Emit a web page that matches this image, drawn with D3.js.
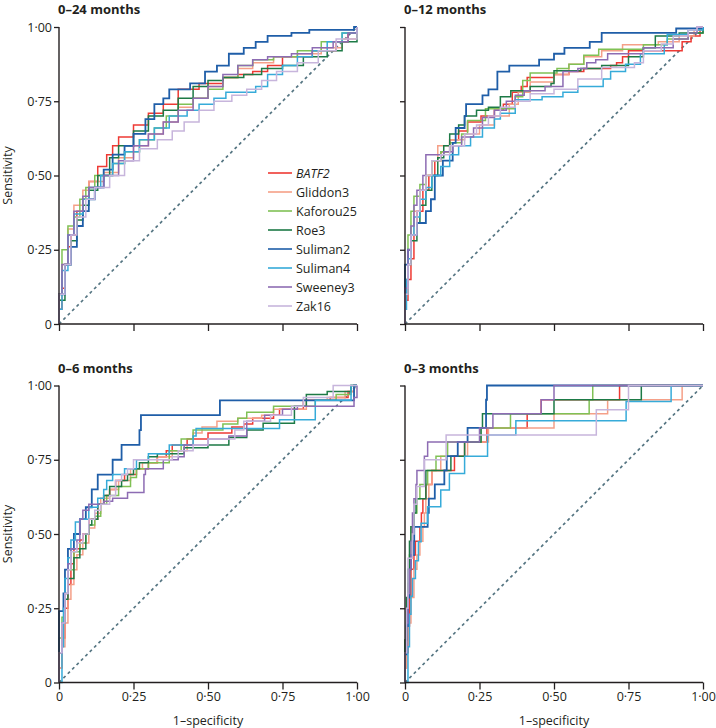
<!DOCTYPE html>
<html>
<head>
<meta charset="utf-8">
<script src="https://cdn.jsdelivr.net/npm/d3@7"></script>
<style>
  html, body { margin: 0; padding: 0; background: #fff; }
  svg { display: block; }
  text { font-family: "Open Sans", "Noto Sans", sans-serif; fill: #231f20; }
</style>
</head>
<body>
<svg id="chart" width="716" height="728"></svg>
<script>
// ---------------- DATA ----------------
const seriesNames = ["BATF2", "Gliddon3", "Kaforou25", "Roe3", "Suliman2", "Suliman4", "Sweeney3", "Zak16"];
const panelTitles = ["0\u201324 months", "0\u201312 months", "0\u20136 months", "0\u20133 months"];
const tickValues = [0, 0.25, 0.5, 0.75, 1];
const tickLabels = ["0", "0\u00b725", "0\u00b750", "0\u00b775", "1\u00b700"];

// ROC points [1-specificity, sensitivity], series in the order of seriesNames
const roc24 = [
  [[0,0],[0,0.05],[0.01,0.12],[0.02,0.2],[0.03,0.26],[0.04,0.3],[0.06,0.38],[0.08,0.42],[0.1,0.48],[0.13,0.53],[0.16,0.57],[0.18,0.6],[0.2,0.63],[0.25,0.67],[0.3,0.71],[0.35,0.74],[0.4,0.79],[0.47,0.81],[0.55,0.83],[0.6,0.84],[0.65,0.85],[0.7,0.87],[0.75,0.9],[0.85,0.92],[0.93,0.95],[0.97,0.98],[1,1]],
  [[0,0],[0,0.08],[0.01,0.2],[0.03,0.32],[0.05,0.4],[0.08,0.45],[0.1,0.48],[0.15,0.51],[0.2,0.56],[0.25,0.6],[0.3,0.64],[0.35,0.68],[0.4,0.73],[0.45,0.76],[0.5,0.8],[0.55,0.83],[0.6,0.86],[0.65,0.88],[0.72,0.9],[0.8,0.91],[0.88,0.93],[0.95,0.96],[1,1]],
  [[0,0],[0,0.1],[0.01,0.25],[0.03,0.33],[0.05,0.36],[0.07,0.42],[0.09,0.46],[0.12,0.5],[0.18,0.54],[0.22,0.58],[0.27,0.62],[0.32,0.66],[0.36,0.7],[0.4,0.74],[0.45,0.76],[0.5,0.79],[0.55,0.83],[0.6,0.87],[0.65,0.89],[0.72,0.9],[0.8,0.92],[0.88,0.95],[0.95,0.98],[1,0.99],[1,1]],
  [[0,0],[0,0.08],[0.02,0.2],[0.04,0.28],[0.06,0.35],[0.08,0.4],[0.1,0.45],[0.13,0.5],[0.17,0.56],[0.2,0.6],[0.25,0.65],[0.3,0.7],[0.35,0.72],[0.4,0.76],[0.45,0.8],[0.5,0.82],[0.55,0.83],[0.62,0.84],[0.68,0.86],[0.75,0.87],[0.82,0.9],[0.9,0.92],[0.95,0.95],[1,1]],
  [[0,0],[0,0.1],[0.02,0.2],[0.04,0.26],[0.06,0.33],[0.08,0.38],[0.1,0.42],[0.12,0.46],[0.15,0.52],[0.18,0.57],[0.22,0.6],[0.25,0.64],[0.29,0.69],[0.32,0.74],[0.35,0.76],[0.37,0.79],[0.44,0.81],[0.49,0.85],[0.53,0.87],[0.57,0.91],[0.62,0.93],[0.66,0.95],[0.7,0.97],[0.78,0.98],[0.84,0.99],[0.99,1],[1,1]],
  [[0,0],[0,0.05],[0.01,0.18],[0.03,0.3],[0.05,0.37],[0.08,0.42],[0.1,0.46],[0.14,0.5],[0.18,0.54],[0.22,0.58],[0.27,0.62],[0.32,0.66],[0.37,0.7],[0.43,0.72],[0.47,0.74],[0.52,0.76],[0.56,0.78],[0.66,0.8],[0.7,0.84],[0.75,0.87],[0.8,0.9],[0.85,0.92],[0.9,0.95],[0.95,0.98],[1,1]],
  [[0,0],[0,0.1],[0.01,0.2],[0.03,0.3],[0.05,0.38],[0.08,0.43],[0.1,0.46],[0.15,0.5],[0.2,0.55],[0.25,0.6],[0.3,0.64],[0.35,0.68],[0.4,0.72],[0.45,0.76],[0.5,0.8],[0.55,0.84],[0.6,0.87],[0.65,0.89],[0.7,0.9],[0.78,0.91],[0.85,0.93],[0.92,0.95],[0.97,0.98],[1,1]],
  [[0,0],[0,0.1],[0.02,0.2],[0.04,0.3],[0.06,0.36],[0.09,0.42],[0.12,0.46],[0.17,0.5],[0.22,0.55],[0.27,0.59],[0.33,0.62],[0.38,0.65],[0.42,0.68],[0.47,0.72],[0.52,0.75],[0.58,0.77],[0.63,0.79],[0.68,0.82],[0.73,0.85],[0.8,0.88],[0.87,0.92],[0.93,0.96],[1,1]]
];

const roc12 = [
  [[0,0],[0,0.08],[0.01,0.15],[0.02,0.22],[0.03,0.3],[0.04,0.38],[0.06,0.45],[0.08,0.5],[0.1,0.55],[0.12,0.58],[0.15,0.62],[0.18,0.65],[0.21,0.68],[0.255,0.7],[0.3,0.72],[0.33,0.74],[0.36,0.78],[0.39,0.8],[0.41,0.83],[0.5,0.84],[0.55,0.85],[0.6,0.86],[0.69,0.87],[0.71,0.88],[0.73,0.9],[0.75,0.92],[0.93,0.95],[0.96,0.97],[0.99,1],[1,1]],
  [[0,0],[0,0.1],[0.01,0.2],[0.02,0.3],[0.03,0.38],[0.05,0.45],[0.07,0.5],[0.09,0.55],[0.11,0.6],[0.15,0.62],[0.2,0.64],[0.25,0.67],[0.3,0.7],[0.35,0.74],[0.38,0.78],[0.42,0.815],[0.5,0.84],[0.55,0.875],[0.6,0.9],[0.66,0.92],[0.73,0.94],[0.85,0.95],[0.92,0.97],[0.97,0.99],[1,1]],
  [[0,0],[0,0.15],[0.01,0.3],[0.02,0.38],[0.03,0.43],[0.05,0.47],[0.07,0.5],[0.09,0.55],[0.12,0.58],[0.15,0.61],[0.19,0.64],[0.21,0.685],[0.27,0.725],[0.37,0.765],[0.395,0.82],[0.42,0.845],[0.51,0.86],[0.55,0.875],[0.6,0.905],[0.65,0.925],[0.8,0.94],[0.88,0.96],[0.95,0.98],[1,1]],
  [[0,0],[0,0.1],[0.01,0.2],[0.02,0.28],[0.04,0.34],[0.05,0.4],[0.07,0.45],[0.09,0.5],[0.11,0.56],[0.13,0.6],[0.15,0.64],[0.18,0.67],[0.2,0.7],[0.24,0.72],[0.28,0.73],[0.32,0.765],[0.355,0.785],[0.42,0.8],[0.49,0.81],[0.5,0.853],[0.59,0.86],[0.66,0.87],[0.75,0.9],[0.8,0.93],[0.84,0.97],[0.92,0.98],[1,1]],
  [[0,0],[0,0.2],[0.01,0.25],[0.02,0.3],[0.04,0.34],[0.07,0.38],[0.087,0.42],[0.1,0.5],[0.127,0.55],[0.16,0.61],[0.17,0.66],[0.2,0.7],[0.205,0.74],[0.26,0.77],[0.28,0.79],[0.31,0.85],[0.35,0.87],[0.45,0.89],[0.5,0.91],[0.535,0.93],[0.62,0.95],[0.66,0.98],[0.91,0.995],[1,1]],
  [[0,0],[0,0.05],[0.005,0.15],[0.01,0.22],[0.02,0.3],[0.03,0.36],[0.05,0.42],[0.07,0.46],[0.09,0.5],[0.12,0.53],[0.15,0.57],[0.18,0.6],[0.22,0.63],[0.26,0.66],[0.3,0.69],[0.32,0.71],[0.37,0.755],[0.46,0.765],[0.53,0.78],[0.58,0.8],[0.665,0.825],[0.69,0.85],[0.74,0.875],[0.79,0.91],[0.87,0.94],[0.88,0.975],[0.95,0.99],[1,1]],
  [[0,0],[0,0.12],[0.01,0.25],[0.02,0.33],[0.03,0.4],[0.04,0.45],[0.06,0.5],[0.07,0.57],[0.13,0.58],[0.16,0.6],[0.19,0.63],[0.23,0.66],[0.26,0.695],[0.3,0.72],[0.34,0.75],[0.37,0.77],[0.4,0.785],[0.47,0.8],[0.53,0.85],[0.58,0.86],[0.61,0.88],[0.64,0.89],[0.68,0.91],[0.8,0.93],[0.9,0.96],[0.95,0.98],[0.98,1],[1,1]],
  [[0,0],[0,0.1],[0.01,0.2],[0.02,0.3],[0.04,0.38],[0.05,0.45],[0.07,0.5],[0.09,0.55],[0.12,0.57],[0.15,0.6],[0.2,0.64],[0.24,0.67],[0.28,0.7],[0.32,0.73],[0.37,0.75],[0.42,0.775],[0.5,0.79],[0.58,0.825],[0.66,0.864],[0.77,0.88],[0.8,0.92],[0.86,0.943],[0.9,0.97],[0.95,0.99],[0.98,1],[1,1]]
];

const roc6 = [
  [[0,0],[0,0.05],[0.01,0.15],[0.02,0.25],[0.03,0.33],[0.04,0.4],[0.05,0.45],[0.07,0.48],[0.08,0.5],[0.1,0.55],[0.13,0.6],[0.15,0.63],[0.17,0.65],[0.19,0.68],[0.22,0.7],[0.26,0.72],[0.3,0.74],[0.33,0.76],[0.36,0.78],[0.38,0.8],[0.43,0.82],[0.5,0.84],[0.58,0.86],[0.62,0.87],[0.65,0.89],[0.72,0.9],[0.74,0.92],[0.82,0.95],[0.91,0.96],[0.97,0.98],[0.99,1],[1,1]],
  [[0,0],[0,0.05],[0.01,0.12],[0.02,0.2],[0.03,0.28],[0.04,0.33],[0.05,0.38],[0.06,0.43],[0.08,0.47],[0.1,0.52],[0.12,0.57],[0.14,0.62],[0.17,0.65],[0.2,0.68],[0.24,0.72],[0.28,0.74],[0.33,0.76],[0.38,0.78],[0.43,0.8],[0.45,0.84],[0.48,0.86],[0.53,0.88],[0.6,0.89],[0.68,0.9],[0.72,0.92],[0.83,0.95],[0.9,0.96],[0.96,0.98],[0.99,1],[1,1]],
  [[0,0],[0,0.15],[0.01,0.22],[0.02,0.3],[0.03,0.38],[0.05,0.44],[0.07,0.47],[0.09,0.5],[0.1,0.53],[0.12,0.56],[0.14,0.6],[0.16,0.63],[0.2,0.66],[0.24,0.69],[0.26,0.72],[0.3,0.74],[0.37,0.78],[0.41,0.82],[0.45,0.85],[0.55,0.87],[0.6,0.89],[0.63,0.91],[0.72,0.93],[0.86,0.95],[0.93,0.97],[0.98,1],[1,1]],
  [[0,0],[0,0.1],[0.01,0.2],[0.02,0.28],[0.03,0.35],[0.05,0.42],[0.07,0.45],[0.09,0.5],[0.1,0.53],[0.11,0.55],[0.13,0.6],[0.15,0.63],[0.17,0.66],[0.21,0.68],[0.23,0.7],[0.25,0.72],[0.27,0.74],[0.3,0.76],[0.33,0.77],[0.42,0.79],[0.5,0.8],[0.57,0.825],[0.63,0.85],[0.685,0.873],[0.79,0.93],[0.83,0.97],[0.9,0.98],[0.98,1],[1,1]],
  [[0,0],[0,0.24],[0.015,0.3],[0.02,0.38],[0.03,0.45],[0.05,0.5],[0.07,0.55],[0.09,0.59],[0.11,0.65],[0.13,0.7],[0.18,0.75],[0.21,0.8],[0.27,0.85],[0.275,0.9],[0.54,0.95],[0.99,1],[1,1]],
  [[0,0],[0.01,0.12],[0.015,0.25],[0.02,0.35],[0.03,0.42],[0.04,0.48],[0.055,0.54],[0.07,0.55],[0.1,0.59],[0.13,0.62],[0.15,0.65],[0.16,0.68],[0.18,0.7],[0.22,0.72],[0.26,0.75],[0.3,0.77],[0.37,0.8],[0.45,0.83],[0.46,0.855],[0.74,0.885],[0.86,0.95],[0.98,1],[1,1]],
  [[0,0],[0,0.1],[0.01,0.2],[0.02,0.3],[0.03,0.4],[0.04,0.45],[0.06,0.48],[0.07,0.55],[0.08,0.58],[0.1,0.6],[0.15,0.61],[0.18,0.62],[0.23,0.64],[0.285,0.7],[0.29,0.72],[0.35,0.75],[0.4,0.76],[0.42,0.8],[0.5,0.82],[0.57,0.83],[0.63,0.88],[0.69,0.9],[0.75,0.92],[0.8,0.93],[0.99,0.96],[1,1]],
  [[0,0],[0,0.1],[0.01,0.2],[0.02,0.3],[0.03,0.38],[0.04,0.44],[0.06,0.47],[0.08,0.5],[0.1,0.55],[0.12,0.58],[0.14,0.6],[0.17,0.63],[0.19,0.68],[0.21,0.7],[0.23,0.72],[0.25,0.75],[0.38,0.76],[0.4,0.78],[0.45,0.8],[0.5,0.82],[0.59,0.85],[0.62,0.88],[0.71,0.9],[0.78,0.93],[0.82,0.96],[0.92,1],[1,1]]
];

const roc3 = [
  [[0,0],[0,0.05],[0.005,0.1],[0.01,0.19],[0.015,0.286],[0.02,0.381],[0.03,0.429],[0.035,0.476],[0.05,0.524],[0.055,0.571],[0.06,0.619],[0.07,0.667],[0.09,0.714],[0.166,0.762],[0.2,0.81],[0.275,0.857],[0.41,0.905],[0.457,0.952],[0.72,1],[1,1]],
  [[0,0],[0,0.05],[0.005,0.12],[0.01,0.2],[0.02,0.286],[0.03,0.381],[0.04,0.429],[0.05,0.476],[0.06,0.524],[0.065,0.571],[0.07,0.619],[0.08,0.667],[0.09,0.714],[0.12,0.762],[0.21,0.81],[0.28,0.857],[0.5,0.905],[0.68,0.952],[0.93,1],[1,1]],
  [[0,0],[0,0.143],[0.005,0.238],[0.01,0.333],[0.015,0.429],[0.02,0.524],[0.03,0.571],[0.04,0.619],[0.05,0.667],[0.076,0.714],[0.104,0.762],[0.143,0.81],[0.255,0.857],[0.354,0.905],[0.618,0.952],[0.63,1],[1,1]],
  [[0,0],[0,0.143],[0.005,0.286],[0.01,0.381],[0.015,0.476],[0.02,0.524],[0.03,0.571],[0.037,0.619],[0.07,0.714],[0.154,0.762],[0.2,0.81],[0.255,0.857],[0.26,0.905],[0.5,0.952],[0.793,1],[1,1]],
  [[0,0],[0,0.095],[0.005,0.19],[0.01,0.286],[0.015,0.381],[0.02,0.429],[0.03,0.476],[0.031,0.524],[0.076,0.571],[0.08,0.619],[0.1,0.667],[0.132,0.714],[0.14,0.762],[0.177,0.81],[0.21,0.857],[0.272,0.952],[0.275,1],[1,1]],
  [[0,0],[0.01,0.12],[0.015,0.23],[0.02,0.29],[0.025,0.35],[0.035,0.41],[0.045,0.474],[0.054,0.536],[0.076,0.592],[0.12,0.648],[0.149,0.704],[0.2,0.762],[0.277,0.833],[0.372,0.881],[0.742,0.946],[0.893,1],[1,1]],
  [[0,0],[0,0.1],[0.005,0.2],[0.01,0.3],[0.015,0.381],[0.02,0.476],[0.025,0.571],[0.03,0.619],[0.037,0.667],[0.04,0.714],[0.065,0.762],[0.076,0.81],[0.25,0.857],[0.295,0.905],[0.457,0.952],[0.5,1],[1,1]],
  [[0,0],[0,0.1],[0.005,0.25],[0.01,0.418],[0.025,0.5],[0.03,0.6],[0.04,0.66],[0.065,0.75],[0.138,0.833],[0.642,0.918],[0.75,1],[1,1]]
];

const panelData = [roc24, roc12, roc6, roc3];

// ---------------- STYLE / LAYOUT ----------------
const colors = ["#ee3a34", "#f5a088", "#80c155", "#1d7a46", "#1f5ea8", "#36abd9", "#8d6cb3", "#c7b5dc"];
const W = 298, H = 297;
const layout = [
  { left: 59, top: 27, yLabels: true, xLabels: false },
  { left: 405, top: 27, yLabels: false, xLabels: false },
  { left: 59, top: 385.5, yLabels: true, xLabels: true },
  { left: 405, top: 385.5, yLabels: false, xLabels: true }
];

const svg = d3.select("#chart");
const x = d3.scaleLinear().domain([0, 1]).range([0, W]);
const y = d3.scaleLinear().domain([0, 1]).range([H, 0]);
const line = d3.line().x(d => x(d[0])).y(d => y(d[1])).curve(d3.curveStepAfter);

layout.forEach((p, i) => {
  const g = svg.append("g").attr("transform", `translate(${p.left},${p.top})`);

  // diagonal reference
  g.append("line")
    .attr("x1", x(0)).attr("y1", y(0)).attr("x2", x(1)).attr("y2", y(1))
    .attr("stroke", "#557582").attr("stroke-width", 1.7)
    .attr("stroke-dasharray", "3,3.2");

  // curves
  panelData[i].forEach((pts, s) => {
    g.append("path")
      .attr("d", line(pts))
      .attr("fill", "none")
      .attr("stroke", colors[s])
      .attr("stroke-width", s === 4 ? 1.8 : 1.5)
      .attr("stroke-linejoin", "miter");
  });

  // axes
  const yAxis = d3.axisLeft(y).tickValues(tickValues).tickSize(5).tickPadding(2)
    .tickFormat((d, k) => p.yLabels ? tickLabels[k] : "");
  const xAxis = d3.axisBottom(x).tickValues(tickValues).tickSize(7).tickPadding(3)
    .tickFormat((d, k) => p.xLabels ? tickLabels[k] : "");

  const ya = g.append("g").call(yAxis);
  const xa = g.append("g").attr("transform", `translate(0,${H})`).call(xAxis);
  [ya, xa].forEach(a => {
    a.select(".domain").attr("stroke", "#231f20").attr("stroke-width", 1.4)
      .attr("d", a === ya ? `M0,${y(1)}V${y(0)}` : `M${x(0)},0H${x(1)}`);
    a.selectAll(".tick line").attr("stroke", "#231f20").attr("stroke-width", 1.3);
    a.selectAll(".tick text").attr("fill", "#231f20")
      .style("font-family", '"Open Sans", "Noto Sans", sans-serif')
      .style("font-size", "12.5px");
  });

  // title
  svg.append("text")
    .attr("x", p.left - 1).attr("y", p.top - 13)
    .style("font-weight", "bold").style("font-size", "13px")
    .text(panelTitles[i]);

  if (p.yLabels) {
    svg.append("text")
      .attr("transform", `translate(${p.left - 47},${p.top + H / 2}) rotate(-90)`)
      .attr("text-anchor", "middle")
      .style("font-size", "12.5px")
      .text("Sensitivity");
  }
  if (p.xLabels) {
    svg.append("text")
      .attr("x", p.left + W / 2).attr("y", p.top + H + 42)
      .attr("text-anchor", "middle")
      .style("font-size", "12.5px")
      .text("1\u2013specificity");
  }
});

// legend
const leg = svg.append("g").attr("transform", "translate(268,173)");
seriesNames.forEach((name, s) => {
  const row = leg.append("g").attr("transform", `translate(0,${s * 19})`);
  row.append("line").attr("x1", 0).attr("x2", 24).attr("y1", 0).attr("y2", 0)
    .attr("stroke", colors[s]).attr("stroke-width", 1.6);
  row.append("text").attr("x", 28).attr("y", 0).attr("dy", "0.36em")
    .style("font-size", "12.5px")
    .style("font-style", s === 0 ? "italic" : "normal")
    .text(name);
});
</script>
</body>
</html>
